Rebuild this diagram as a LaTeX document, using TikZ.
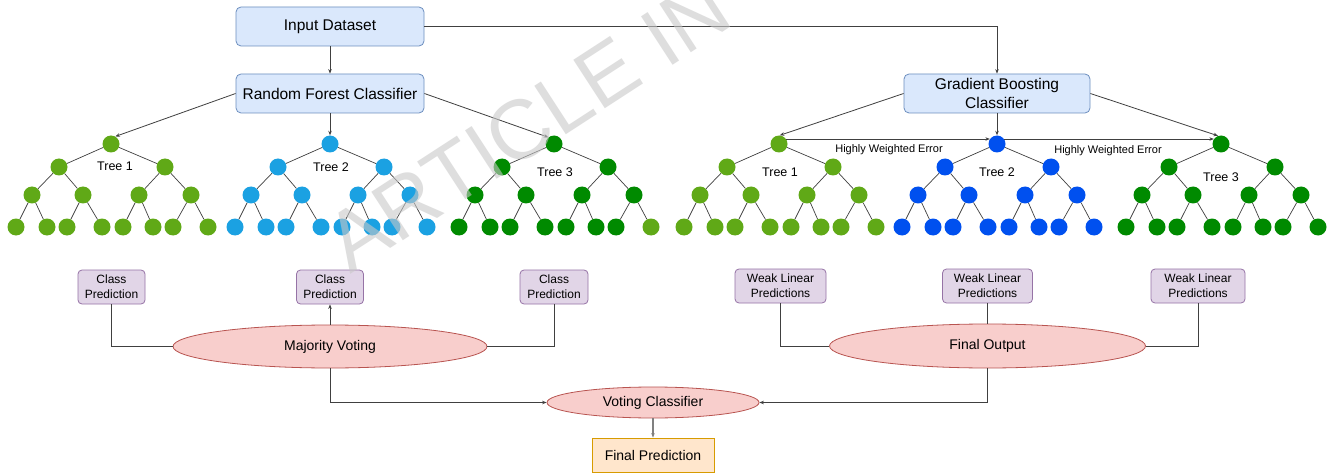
\documentclass[tikz,border=0pt]{standalone}
\usepackage{fontspec}
\setmainfont{Liberation Sans}
\usetikzlibrary{shapes.geometric,arrows.meta,calc}
\definecolor{bluef}{HTML}{DAE8FC}\definecolor{bluel}{HTML}{6C8EBF}
\definecolor{purf}{HTML}{E1D5E7}\definecolor{purl}{HTML}{9673A6}
\definecolor{redf}{HTML}{F8CECC}\definecolor{redl}{HTML}{B85450}
\definecolor{orf}{HTML}{FFE6CC}\definecolor{orl}{HTML}{D79B00}
\definecolor{lgreen}{HTML}{60A917}\definecolor{dgreen}{HTML}{008A00}
\definecolor{lblue}{HTML}{1BA1E2}\definecolor{dblue}{HTML}{0050EF}
\definecolor{edgec}{HTML}{404040}
\definecolor{wmgray}{HTML}{C8C8C8}
\newcommand{\mytree}[4]{%
  \foreach \n/\dx/\yy in {r/0/144, a/-52/167, b/54/167, aa/-79/195, ab/-28/195, ba/28/195, bb/80/195, aaa/-95/227, aab/-64/227, aba/-44/227, abb/-9/227, baa/12/227, bab/42/227, bba/62/227}
    \node[tn, fill=#3] (#1\n) at (#2+\dx,\yy) {};
  \node[tn, fill=#4] (#1bbb) at (#2+97,227) {};
  \foreach \p/\c in {r/a, r/b, a/aa, a/ab, b/ba, b/bb, aa/aaa, aa/aab, ab/aba, ab/abb, ba/baa, ba/bab, bb/bba, bb/bbb}
    \draw[tedge] (#1\p) -- (#1\c);
}
\begin{document}
\begin{tikzpicture}[x=1pt,y=-1pt,
  mainbox/.style={draw=bluel, fill=bluef, rounded corners=5pt, line width=0.8pt, minimum width=188pt, minimum height=39pt, inner sep=0pt, align=center, font=\fontsize{15.5}{18.5}\selectfont},
  predbox/.style={draw=purl, fill=purf, rounded corners=4pt, line width=0.8pt, minimum height=34pt, inner sep=0pt, align=center, font=\fontsize{12}{15}\selectfont},
  oval/.style={ellipse, draw=redl, fill=redf, line width=0.8pt, inner sep=0pt, font=\fontsize{14}{16}\selectfont},
  tn/.style={circle, minimum size=17pt, inner sep=0pt},
  tedge/.style={draw=edgec, line width=0.7pt},
  conn/.style={draw=edgec, line width=0.8pt},
  arr/.style={conn, -{Stealth[length=4.5pt,width=3.5pt]}},
  lbl/.style={font=\fontsize{12.5}{14}\selectfont, inner sep=0pt},
  hwe/.style={font=\fontsize{11}{13}\selectfont, inner sep=0pt},
]
\fill[white] (0,0) rectangle (1338,473);
\useasboundingbox (0,0) rectangle (1338,473);

\node[mainbox] (in) at (330,26.5) {Input Dataset};
\node[mainbox] (rf) at (330,93.5) {Random Forest Classifier};
\node[mainbox, minimum width=186pt] (gb) at (997,93.5) {Gradient Boosting\\Classifier};

\mytree{p}{111}{lgreen}{lgreen}
\mytree{q}{330}{lblue}{lblue}
\mytree{s}{554}{dgreen}{lgreen}
\mytree{u}{779}{lgreen}{lgreen}
\mytree{v}{997}{dblue}{dblue}
\mytree{w}{1221}{dgreen}{dgreen}

\node[lbl] (t1) at (115,166) {Tree 1};
\node[lbl] (t2) at (331,167) {Tree 2};
\node[lbl] (t3) at (555,172) {Tree 3};
\node[lbl] (t4) at (780,172) {Tree 1};
\node[lbl] (t5) at (997,172) {Tree 2};
\node[lbl] (t6) at (1221,177) {Tree 3};
\node[hwe] (h1) at (889,150) {Highly Weighted Error};
\node[hwe] (h2) at (1108,151) {Highly Weighted Error};

\draw[arr] (in.south) -- (rf.north);
\draw[arr] (in.east) -| (gb.north);
\draw[arr] (rf.west) -- (pr.60);
\draw[arr] (rf.south) -- (qr.north);
\draw[arr] (rf.east) -- (sr.130);
\draw[arr] (gb.west) -- (ur.85);
\draw[arr] (gb.south) -- (vr.north);
\draw[arr] (gb.east) -- (wr.110);
\draw[arr] (ur.35) -- (vr.145);
\draw[arr] (vr.35) -- (wr.145);

\node[predbox, minimum width=67pt] (cp1) at (111.5,287) {Class\\Prediction};
\node[predbox, minimum width=67pt] (cp2) at (330,287) {Class\\Prediction};
\node[predbox, minimum width=68pt] (cp3) at (554,287) {Class\\Prediction};
\node[predbox, minimum width=91pt] (wl1) at (780.5,286) {Weak Linear\\Predictions};
\node[predbox, minimum width=90pt] (wl2) at (987.5,286) {Weak Linear\\Predictions};
\node[predbox, minimum width=94pt] (wl3) at (1198,286) {Weak Linear\\Predictions};
\node[oval, minimum width=314pt, minimum height=43pt] (mv) at (330,346.5) {Majority Voting};
\node[oval, minimum width=316pt, minimum height=44pt] (fo) at (987.5,346) {Final Output};
\node[oval, minimum width=212pt, minimum height=31pt] (vc) at (653,402.5) {Voting Classifier};
\node[draw=orl, fill=orf, line width=0.8pt, minimum width=122pt, minimum height=34pt, inner sep=0pt, font=\fontsize{14}{16}\selectfont] (fp) at (653,455) {Final Prediction};

\draw[conn] (cp1.south) |- (mv.west);
\draw[conn] (cp3.south) |- (mv.east);
\draw[arr] (mv.north) -- (cp2.south);
\draw[conn] (wl1.south) |- (fo.west);
\draw[conn] (wl2.south) -- (fo.north);
\draw[conn] (wl3.south) |- (fo.east);
\draw[arr] (mv.south) |- (vc.west);
\draw[arr] (fo.south) |- (vc.east);
\draw[arr, draw=gray, line width=1.2pt] (vc.south) -- (fp.north);

\node[rotate=33, text=wmgray, opacity=0.6, inner sep=0pt, font=\fontsize{84}{84}\selectfont] (wm) at (528,125) {ARTICLE IN};
\end{tikzpicture}
\end{document}
